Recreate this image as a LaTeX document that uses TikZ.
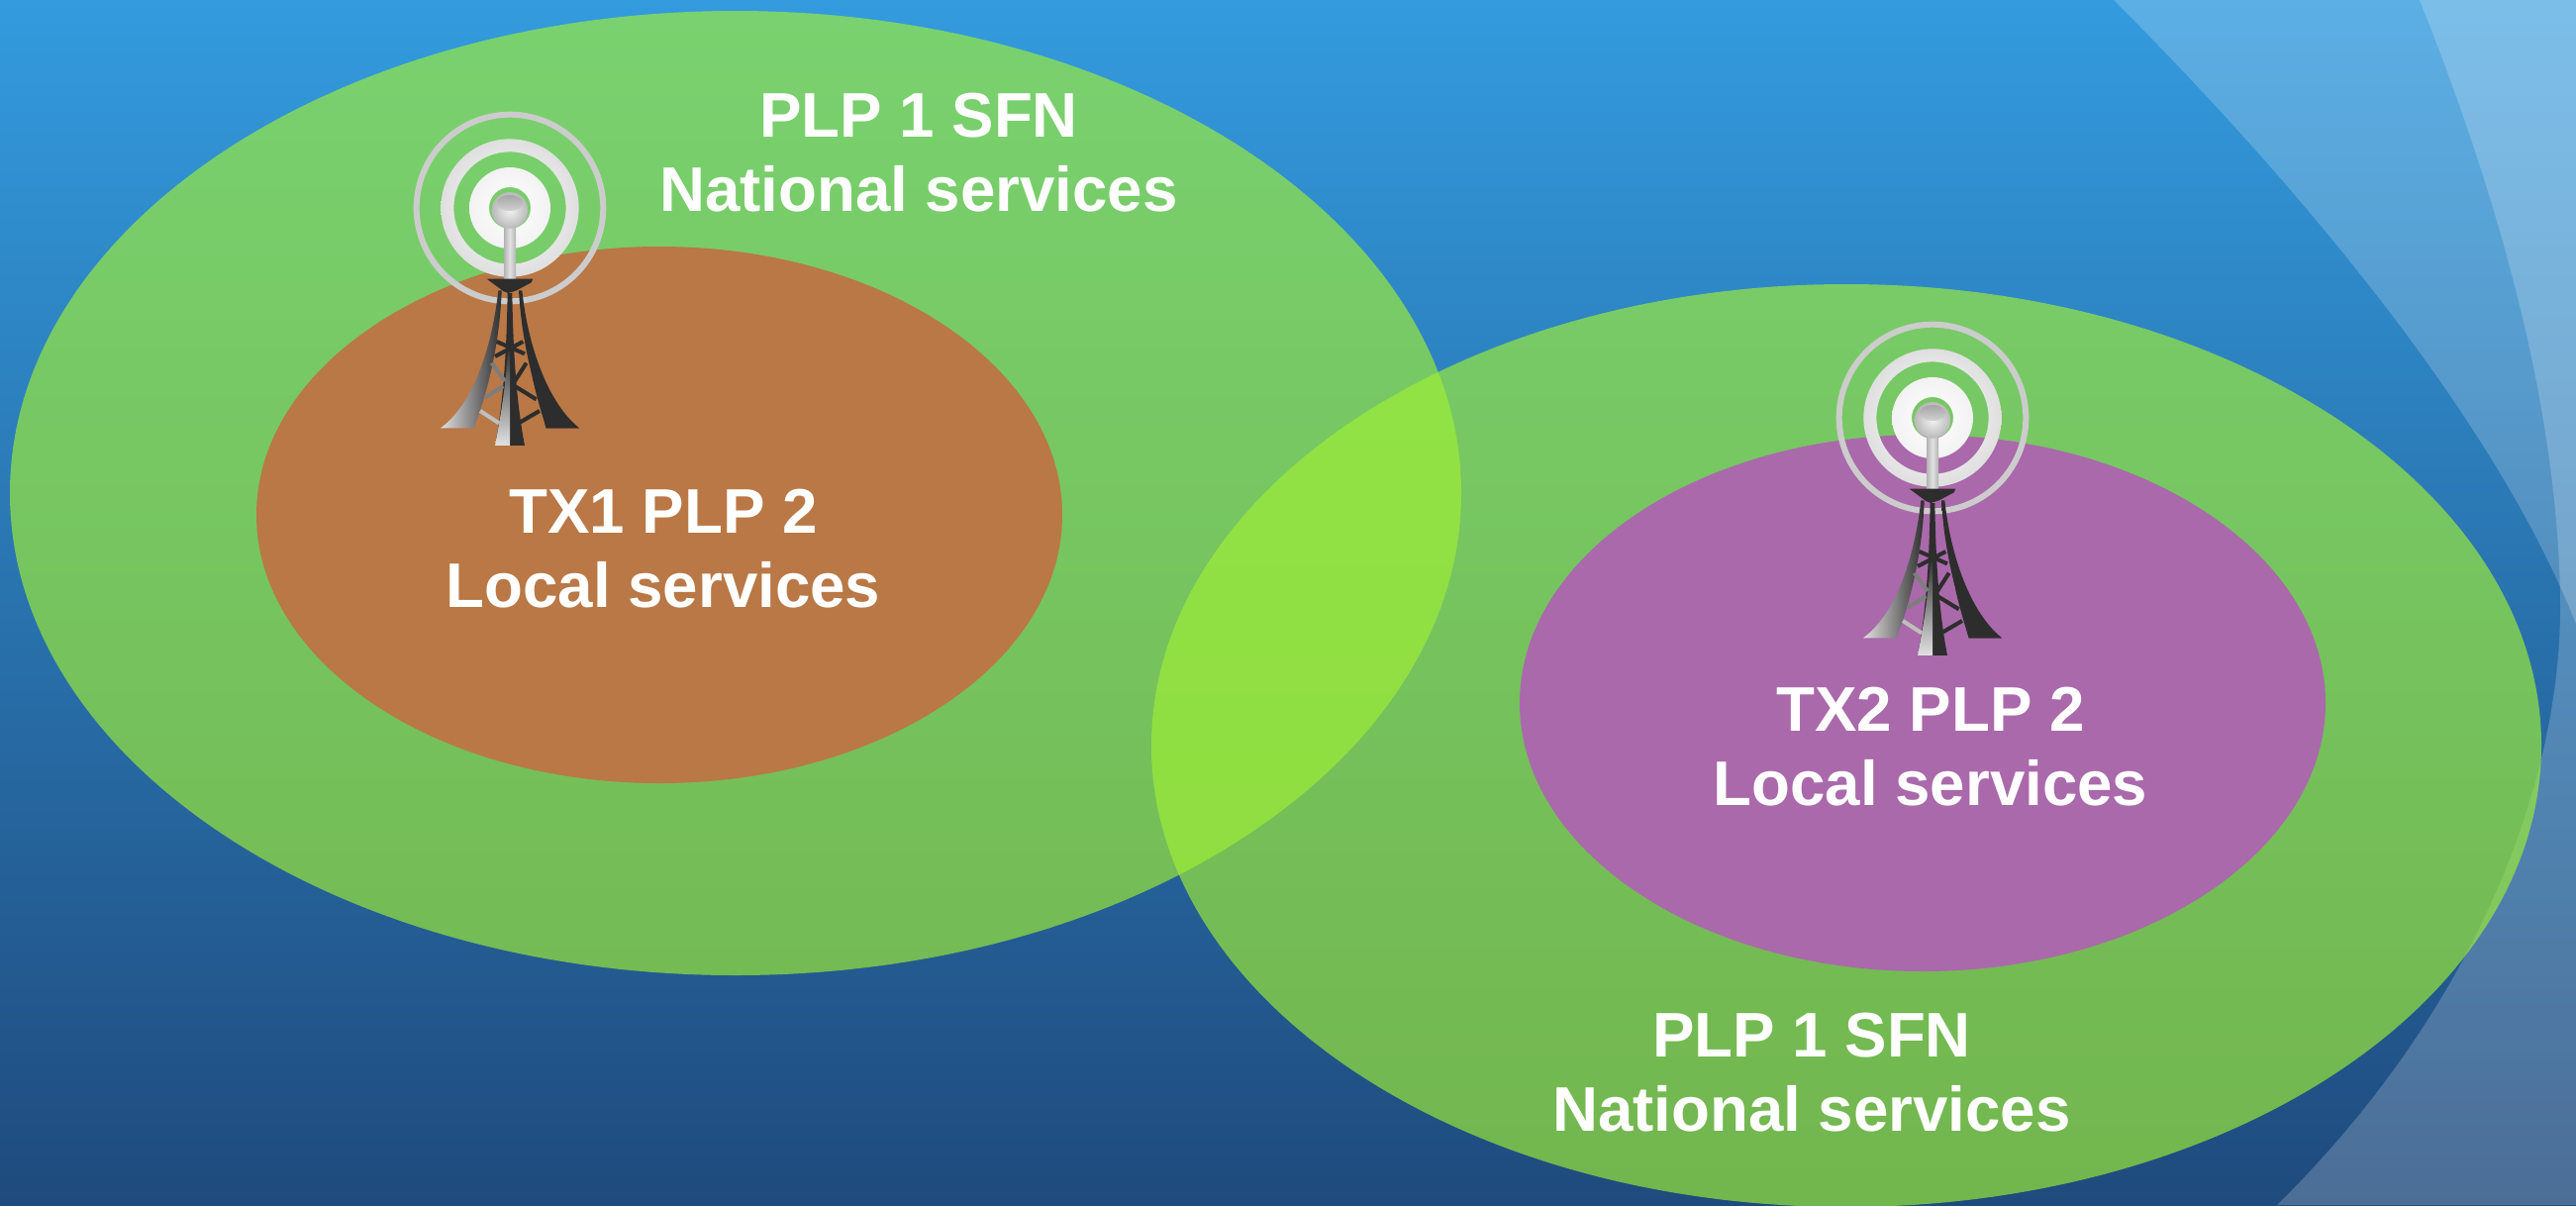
\documentclass[tikz,border=0pt]{standalone}
\usepackage{fontspec}
\setmainfont{Liberation Sans}
\definecolor{sky_top}{RGB}{51,155,222}
\definecolor{sky_bottom}{RGB}{31,74,125}
\definecolor{cover_green}{RGB}{160,240,53}
\definecolor{tx1_brown}{RGB}{185,120,70}
\definecolor{tx2_purple}{RGB}{170,105,170}
\definecolor{steel_dark}{RGB}{45,45,45}
\definecolor{steel_mid}{RGB}{125,125,125}
\definecolor{steel_light}{RGB}{225,225,225}
\tikzset{
  tower/.pic={
    \begin{scope}[scale=.3333,shift={(-405,-360)}]
      % Rings
      \path[even odd rule,fill=gray!40!white] (405,360) circle (292) (405,360) circle (274);
      \path[even odd rule,inner color=white,outer color=gray!25!white] (405,360) circle (209) (405,360) circle (170);
      \path[even odd rule,inner color=white,outer color=gray!10!white] (405,360) circle (123) (405,360) circle (63);
      % Legs
      \path[left color=steel_light,right color=steel_dark]
        (370,610) .. controls (352,770) and (300,950) .. (195,1027) -- (295,1027)
        .. controls (335,930) and (375,770) .. (380,610) -- cycle;
      \path[left color=steel_dark,middle color=steel_light,right color=steel_dark]
        (432,610) .. controls (442,780) and (480,900) .. (515,1027) -- (615,1027)
        .. controls (520,950) and (460,780) .. (442,610) -- cycle;
      \fill[steel_dark] (475,880) .. controls (490,950) and (505,990) .. (515,1027) -- (615,1027)
        .. controls (560,985) and (525,940) .. (495,880) -- cycle;
      \fill[steel_dark] (398,618) -- (405,618) -- (405,1080) -- (360,1080) .. controls (385,950) and (395,800) .. cycle;
      \fill[steel_dark] (405,618) -- (412,618) .. controls (415,800) and (425,950) .. (450,1080) -- (405,1080) -- cycle;
      \path[top color=steel_dark,bottom color=steel_light] (399,780) -- (405,780) -- (405,1080) -- (360,1080) .. controls (385,950) and (395,870) .. cycle;
      % Braces
      \draw[brace_dark] (365,765) -- (450,802);
      \draw[brace_dark] (445,765) -- (360,810);
      \draw[brace_gray] (350,830) -- (390,885);
      \draw[brace_dark] (455,830) -- (420,885);
      \draw[brace_dark] (420,900) -- (485,940);
      \draw[brace_gray] (385,900) -- (330,935);
      \draw[brace_dark] (495,975) -- (435,1010);
      \draw[brace_light] (315,975) -- (372,1012);
      % Mast
      \path[left color=gray!60!white,right color=gray!60!white,middle color=steel_light]
        (387,420) rectangle (423,592);
      \fill[steel_dark] (335,575) -- (475,575) -- (470,586) -- (425,610) -- (400,618) -- (385,612) -- cycle;
      \path[inner color=gray!10!white,outer color=gray!55!white] (405,367) circle (55);
      \path[top color=gray!70!white,bottom color=gray!35!white] (405,345) ellipse (40 and 24);
    \end{scope}
  }
}
\begin{document}
\begin{tikzpicture}[x=0.01cm, y=-0.01cm,
                    cover_style/.style={fill=cover_green, fill opacity=0.65},
                    swoosh_style/.style={fill=white, fill opacity=0.2},
                    label_style/.style={text=white, align=center, inner sep=0pt,
                                        font=\fontsize{18.1}{21.3}\selectfont\bfseries},
                    brace_dark/.style={draw=steel_dark, line width=1.15pt},
                    brace_gray/.style={draw=steel_mid, line width=1.15pt},
                    brace_light/.style={draw=gray!50!white, line width=1.15pt}
   ]
   \useasboundingbox (0,0) rectangle (2602,1217);
   \fill[top color=sky_top, bottom color=sky_bottom] (0,0) rectangle (2602,1217);
   % Swooshes
   \fill[swoosh_style] (2135,0) .. controls (2300,165) and (2515,410) .. (2602,630) -- (2602,0) -- cycle;
   \fill[swoosh_style] (2444,0) .. controls (2520,190) and (2582,400) .. (2586,600)
      .. controls (2590,800) and (2490,1030) .. (2300,1217) -- (2602,1217) -- (2602,0) -- cycle;
   % Coverage areas
   \fill[cover_style] (743,498) ellipse (733 and 487);
   \fill[cover_style] (1865,753) ellipse (702 and 466);
   \fill[tx1_brown] (666,520) ellipse (407 and 271);
   \fill[tx2_purple] (1942,710) ellipse (407 and 271);
   % Towers
   \pic at (515,210) {tower};
   \pic at (1952,422) {tower};
   % Labels
   \node[label_style] (plp1_north) at (928,154) {PLP 1 SFN\\National services};
   \node[label_style] (tx1_local) at (670,554) {TX1 PLP 2\\Local services};
   \node[label_style] (tx2_local) at (1950,754) {TX2 PLP 2\\Local services};
   \node[label_style] (plp1_south) at (1830,1083) {PLP 1 SFN\\National services};
\end{tikzpicture}
\end{document}
